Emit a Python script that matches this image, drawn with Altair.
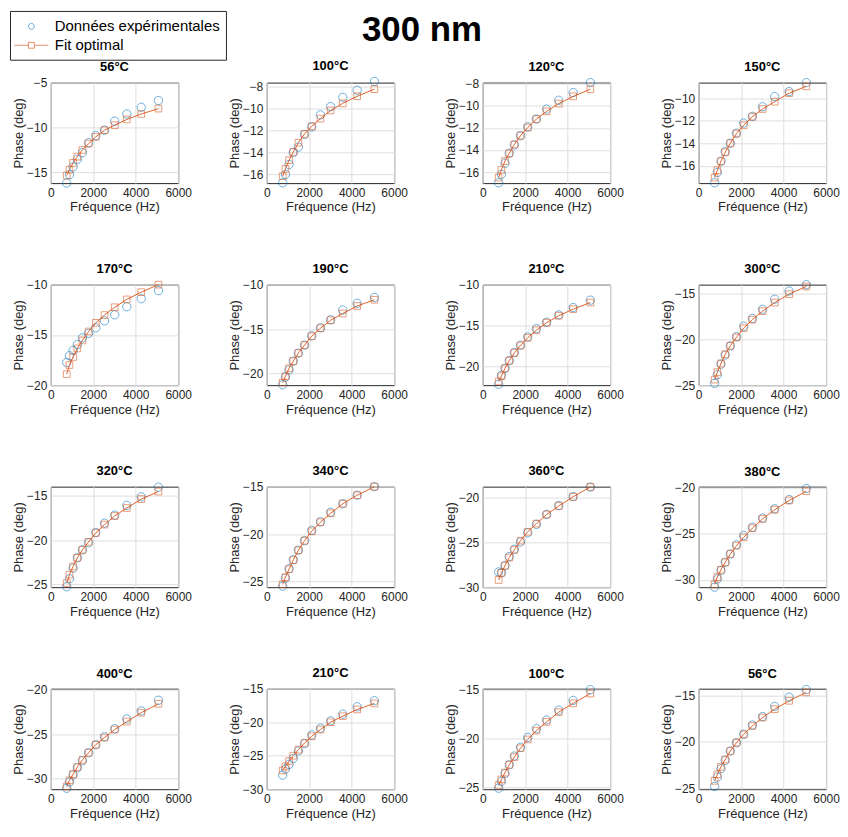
import altair as alt
import pandas as pd

# ---------------- data ----------------
main_title = "300 nm"
freq_hz = [750, 880, 1050, 1250, 1490, 1780, 2120, 2530, 3010, 3580, 4260, 5070]

panel_titles = ["56°C", "100°C", "120°C", "150°C",
                "170°C", "190°C", "210°C", "300°C",
                "320°C", "340°C", "360°C", "380°C",
                "400°C", "210°C", "100°C", "56°C"]

exp_phase = [
    [-16.2, -15.25, -14.4, -13.55, -12.8, -11.7, -10.9, -10.3, -9.3, -8.5, -7.75, -7.0],
    [-16.77, -16.0, -15.1, -14.0, -13.5, -12.35, -11.65, -10.55, -9.8, -8.95, -8.3, -7.5],
    [-16.97, -16.2, -15.2, -14.3, -13.55, -12.7, -11.9, -11.2, -10.3, -9.5, -8.8, -7.9],
    [-17.52, -16.6, -15.6, -14.75, -14.0, -13.1, -12.2, -11.6, -10.75, -9.85, -9.4, -8.6],
    [-17.75, -17.07, -16.55, -15.96, -15.3, -14.85, -14.3, -13.6, -13.0, -12.2, -11.4, -10.6],
    [-21.25, -20.4, -19.6, -18.6, -17.7, -16.8, -15.75, -14.85, -13.95, -12.85, -12.1, -11.45],
    [-22.2, -21.1, -20.24, -19.3, -18.3, -17.4, -16.4, -15.38, -14.6, -13.7, -12.8, -11.9],
    [-24.8, -23.85, -22.7, -21.7, -20.7, -19.7, -18.55, -17.7, -16.7, -15.6, -14.7, -14.0],
    [-25.25, -24.35, -23.15, -22.0, -21.1, -20.3, -19.15, -18.1, -17.2, -16.1, -15.15, -14.05],
    [-25.5, -24.65, -23.65, -22.7, -21.7, -20.7, -19.6, -18.7, -17.7, -16.8, -15.9, -15.0],
    [-28.3, -28.4, -27.6, -26.6, -25.77, -24.96, -23.94, -23.0, -21.9, -20.9, -19.9, -18.85],
    [-30.8, -29.9, -29.0, -28.1, -27.2, -26.2, -25.2, -24.3, -23.3, -22.3, -21.3, -20.1],
    [-31.1, -30.4, -29.6, -28.8, -28.0, -27.1, -26.2, -25.3, -24.4, -23.3, -22.4, -21.2],
    [-27.9, -27.0, -26.3, -25.4, -24.3, -23.2, -21.9, -20.9, -19.8, -18.8, -17.7, -16.8],
    [-25.1, -24.4, -23.6, -22.7, -21.8, -20.9, -19.9, -19.0, -18.1, -17.1, -16.1, -15.0],
    [-24.8, -23.8, -22.9, -22.0, -21.0, -20.1, -19.2, -18.2, -17.3, -16.2, -15.2, -14.4],
]

fit_phase = [
    [-15.35, -14.7, -13.95, -13.25, -12.5, -11.8, -11.05, -10.3, -9.75, -9.1, -8.5, -7.9],
    [-16.17, -15.5, -14.7, -13.95, -13.1, -12.3, -11.6, -10.9, -10.15, -9.5, -8.85, -8.2],
    [-16.5, -15.8, -15.0, -14.3, -13.5, -12.7, -11.97, -11.2, -10.5, -9.8, -9.15, -8.5],
    [-17.06, -16.4, -15.6, -14.8, -14.0, -13.14, -12.4, -11.64, -10.95, -10.3, -9.54, -8.93],
    [-18.9, -18.0, -17.2, -16.35, -15.55, -14.66, -13.8, -13.03, -12.25, -11.47, -10.75, -10.0],
    [-21.0, -20.3, -19.4, -18.6, -17.7, -16.8, -15.8, -14.9, -14.0, -13.25, -12.4, -11.7],
    [-21.85, -21.2, -20.24, -19.3, -18.35, -17.45, -16.5, -15.58, -14.66, -13.8, -13.0, -12.2],
    [-24.4, -23.57, -22.63, -21.63, -20.7, -19.77, -18.76, -17.83, -16.9, -15.97, -15.04, -14.2],
    [-24.85, -23.9, -22.97, -22.0, -21.1, -20.2, -19.2, -18.26, -17.3, -16.4, -15.4, -14.55],
    [-25.3, -24.55, -23.7, -22.75, -21.7, -20.7, -19.7, -18.75, -17.8, -16.8, -15.9, -15.0],
    [-29.2, -28.4, -27.6, -26.7, -25.84, -24.82, -23.83, -22.92, -21.9, -20.95, -19.93, -18.83],
    [-30.5, -29.7, -28.9, -28.1, -27.2, -26.3, -25.4, -24.4, -23.4, -22.4, -21.4, -20.4],
    [-30.9, -30.2, -29.5, -28.7, -27.9, -27.1, -26.2, -25.4, -24.5, -23.6, -22.6, -21.6],
    [-27.2, -26.6, -25.8, -25.0, -24.1, -23.1, -22.1, -21.1, -20.0, -19.1, -18.1, -17.2],
    [-24.8, -24.2, -23.5, -22.7, -21.9, -21.0, -20.1, -19.2, -18.3, -17.3, -16.4, -15.4],
    [-24.2, -23.5, -22.7, -21.9, -21.0, -20.1, -19.2, -18.3, -17.4, -16.5, -15.6, -14.7],
]

y_limits = [
    [-16.2, -5], [-16.8, -7.6], [-17.0, -7.9], [-17.55, -8.6],
    [-20, -10], [-21.3, -10], [-22.3, -10], [-25, -14],
    [-25.3, -14], [-25.6, -15], [-30, -18.8], [-30.8, -19.9],
    [-31.2, -19.9], [-30, -15], [-25.2, -14.9], [-25.1, -14.3],
]
y_steps = [5, 2, 2, 2, 5, 5, 5, 5, 5, 5, 5, 5, 5, 5, 5, 5]
x_ticks = [0, 2000, 4000, 6000]

series_names = ["Données expérimentales", "Fit optimal"]
BLUE = "#0072BD"
ORANGE = "#D95319"
FONT = "Liberation Sans"
DARK = "#262626"

PW, PH = 128, 101            # panel plot area
COL_GAP, ROW_GAP = 89, 102
GRID_W = 4 * PW + 3 * COL_GAP

# legend symbols (unit = sqrt(symbolSize)/2 px)
circle_path = "M0.33,0A0.33,0.33 0 1,1 -0.33,0A0.33,0.33 0 1,1 0.33,0Z"
fit_path = "M-1.9,0H-0.33M0.33,0H1.9M-0.33,-0.33H0.33V0.33H-0.33Z"

color_enc = alt.Color(
    "series:N",
    scale=alt.Scale(domain=series_names, range=[BLUE, ORANGE]),
    legend=alt.Legend(title=None),
)
shape_enc = alt.Shape(
    "series:N",
    scale=alt.Scale(domain=series_names, range=[circle_path, fit_path]),
    legend=alt.Legend(title=None),
)


def make_panel(i):
    rows = []
    for f, e in zip(freq_hz, exp_phase[i]):
        rows.append({"freq": f, "phase": e, "series": series_names[0]})
    for f, v in zip(freq_hz, fit_phase[i]):
        rows.append({"freq": f, "phase": v, "series": series_names[1]})
    df = pd.DataFrame(rows)
    lo, hi = y_limits[i]
    step = y_steps[i]
    ticks = [v for v in range(-40, 1) if v % step == 0 and lo - 1e-9 <= v <= hi + 1e-9]
    x = alt.X("freq:Q", scale=alt.Scale(domain=[0, 6000], nice=False),
              axis=alt.Axis(values=x_ticks, format="d", title="Fréquence (Hz)"))
    y = alt.Y("phase:Q", scale=alt.Scale(domain=[lo, hi], nice=False, zero=False),
              axis=alt.Axis(values=ticks, format="d", title="Phase (deg)"))
    base = alt.Chart(df).encode(x=x, y=y)
    circ = base.transform_filter(alt.datum.series == series_names[0]).mark_point(
        shape="circle", filled=False, size=70, strokeWidth=0.8).encode(color=color_enc)
    line = base.transform_filter(alt.datum.series == series_names[1]).mark_line(
        color=ORANGE, strokeWidth=0.9)
    sq = base.transform_filter(alt.datum.series == series_names[1]).mark_point(
        shape="square", filled=False, size=45, strokeWidth=0.8).encode(color=color_enc)
    dummy = base.transform_filter("datum.phase > 1000").mark_point(
        filled=False).encode(color=color_enc, shape=shape_enc)
    return alt.layer(circ, line, sq, dummy).properties(
        width=PW, height=PH,
        view=alt.ViewBackground(stroke=DARK, strokeWidth=1),
        title=alt.Title(panel_titles[i], fontSize=13, fontWeight="bold", font=FONT,
                        color="black", offset=3),
    )


panels = [make_panel(i) for i in range(16)]

grid = alt.concat(
    *panels, columns=4, spacing={"row": ROW_GAP, "column": COL_GAP}, bounds="flush",
)

# header row carrying the main title
header = alt.Chart(pd.DataFrame({"label": [main_title]})).mark_text(
    font=FONT, fontSize=35, fontWeight="bold", color="black",
    align="center", baseline="bottom",
).encode(
    text="label:N", x=alt.value(373), y=alt.value(37),
).properties(width=GRID_W, height=40, view=alt.ViewBackground(strokeOpacity=0))

chart = alt.vconcat(
    header, grid, spacing=32, bounds="flush",
).properties(
    padding={"left": 1, "top": 0, "right": 0, "bottom": 0},
).configure_view(
    stroke=None,
).configure_axis(
    labelFont=FONT, titleFont=FONT, labelFontSize=12, titleFontSize=13,
    labelColor=DARK, titleColor=DARK, titleFontWeight="normal",
    grid=True, gridColor="#dedede", gridWidth=1, domain=False, ticks=False,
    labelPadding=4, labelFlush=False,
).configure_axisY(
    titlePadding=1,
).configure_axisX(
    titlePadding=3,
).configure_legend(
    orient="none", legendX=-41, legendY=0,
    strokeColor=DARK, fillColor="white", padding=6,
    labelFont=FONT, labelFontSize=15, labelColor="black", labelLimit=400,
    symbolSize=324, symbolStrokeWidth=0.9, rowPadding=1,
    symbolOffset=6, labelOffset=14,
)

chart.save("out.html", embed_options={"renderer": "svg", "actions": False})
